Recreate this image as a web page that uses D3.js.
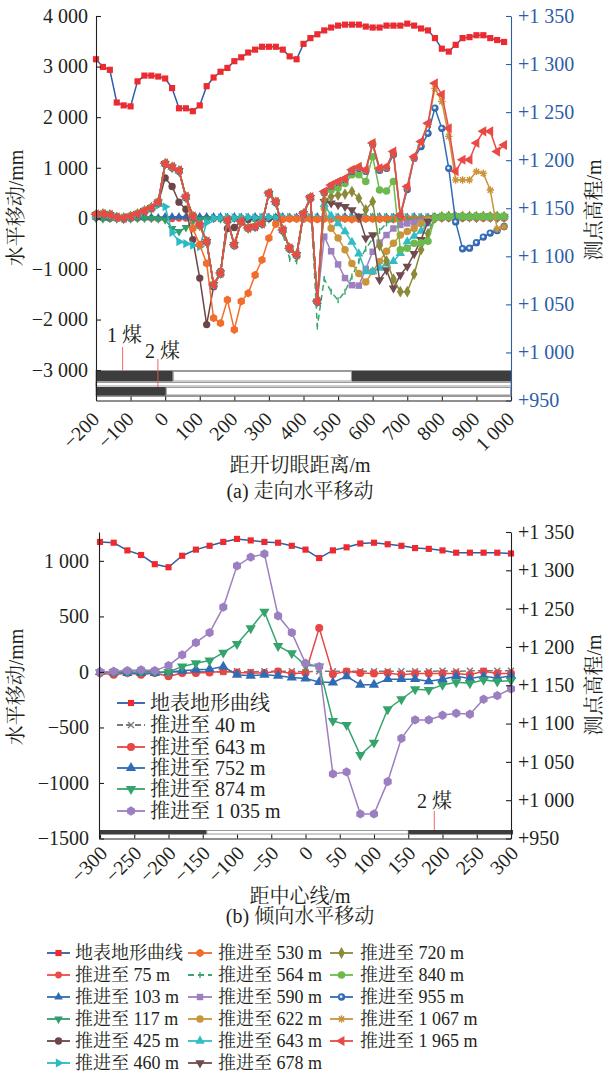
<!DOCTYPE html>
<html>
<head>
<meta charset="utf-8">
<script src="https://cdn.jsdelivr.net/npm/d3@7"></script>
<style>
  body { margin: 0; background: #fff; }
  svg { display: block; }
</style>
</head>
<body>
<svg id="chart" width="604" height="1075"></svg>
<script>
// ---------- data: (a) strike direction ----------
const distA = [-200,-180,-160,-140,-120,-100,-80,-60,-40,-20,0,20,40,60,80,100,120,140,160,180,200,220,240,260,280,300,320,340,360,380,400,420,440,460,480,500,520,540,560,580,600,620,640,660,680,700,720,740,760,780,800,820,840,860,880,900,920,940,960,980];
const elevA = [1305,1297,1294,1260,1257,1256,1282,1288,1288,1287, 1285,1275,1254,1254,1251,1257,1277,1286,1292,1296, 1303,1307,1312,1315,1318,1318,1318,1315,1308,1305, 1321,1327,1331,1335,1338,1340,1341,1341,1341,1339, 1338,1338,1340,1340,1340,1342,1340,1337,1335,1327, 1316,1313,1320,1327,1328,1330,1330,1327,1325,1323];
const mv75 = [10,0,-10,0,-20,-10,0,10,0,-10, 0,-10,0,0,-10,0,0,-10,0,0, 0,10,0,0,-10,0,0,0,10,0, 0,0,-10,0,0,0,10,0,0,0, 0,0,0,10,0,0,0,0,10,0, 0,0,0,0,10,0,0,0,0,0];
const mv103 = [20,10,0,10,0,10,20,10,20,10, 30,30,30,30,30,30,30,30,30,20, 30,20,20,30,20,20,20,30,20,20, 20,20,30,20,20,20,30,20,20,20, 20,30,20,20,20,20,30,20,20,20, 30,20,20,30,20,20,30,20,20,30];
const mv117 = [0,-10,0,-10,-20,-10,0,0,0,-10, -30,-200,-260,-180,-60,-20,-10,0,-10,0, 0,-10,0,0,0,-10,0,0,0,0, 0,-10,0,0,0,0,0,-10,0,0, 0,0,0,0,-10,0,0,0,0,0, 10,10,0,10,10,0,10,10,0,10];
const mv425 = [70,90,60,20,10,40,80,130,190,300, 800,630,320,180,-420,-1180,-2100,-1350,-1050,-200, -180,-60,-20,0,-10,0,10,0,0,0, -10,0,-10,0,0,-10,0,0,-10,0, 0,-10,0,0,0,-10,0,0,0,10, 20,30,20,30,20,30,30,20,30,20];
const mv460 = [60,80,70,20,10,30,80,140,200,260, 230,-280,-460,-500,-530,-560,-80,0,10,20, 10,20,20,10,20,20,10,20,20,10, 20,20,10,20,20,20,10,20,20,20, 20,20,20,20,10,20,20,20,20,30, 30,30,40,30,30,40,30,30,40,30];
const mv530 = [70,90,70,20,10,40,90,150,210,320, 1080,1010,940,420,-200,-520,-890,-1970,-2070,-1610, -2200,-1640,-1480,-1120,-820,-390,-110,-20,-10,-10, -10,-10,-20,-10,-10,-10,-10,-20,-10,-10, -10,-10,-10,-20,-10,-10,-10,-10,-10,0, 10,20,20,10,20,20,10,20,20,10];
const mv564 = [80,100,70,30,20,50,90,160,220,330, 1090,1030,960,440,50,-120,-450,-1300,-1070,-20, -510,-50,-180,-150,-90,510,340,-300,-800,-850, 50,380,-2140,-1200,-1450,-1620,-1450,-1150,-850,-600, -400,-250,-100,-30,0,-10,0,0,10,30, 30,40,30,30,40,30,30,40,30,30];
const mv590 = [80,90,70,20,10,40,90,150,210,330, 1090,1020,950,430,40,-130,-460,-1310,-1080,-30, -520,-60,-190,-160,-100,500,330,-230,-590,-720, 100,420,-1640,-360,-650,-910,-1180,-1320,-1330,-1000, -660,-480,-330,-200,-130,-100,-80,-60,-40,20, 30,30,40,30,30,30,40,30,30,30];
const mv622 = [70,90,70,20,10,40,90,150,210,320, 1080,1010,940,420,40,-140,-460,-1310,-1080,-40, -520,-60,-190,-160,-100,490,320,-230,-590,-720, 90,410,-1640,200,-195,-390,-620,-890,-1090,-1260, -1050,-850,-650,-490,-330,-260,-200,-100,-30,10, 30,30,30,40,30,30,30,40,30,30];
const mv643 = [70,90,70,20,10,40,90,150,210,320, 1080,1010,940,420,40,-140,-460,-1310,-1080,-40, -520,-60,-190,-160,-100,490,320,-230,-590,-720, 90,410,-1640,280,50,-100,-260,-470,-700,-1050, -1050,-980,-900,-850,-690,-460,-350,-250,-100,10, 30,40,30,30,30,40,30,30,30,40];
const mv678 = [70,90,70,20,10,40,90,150,210,320, 1080,1010,940,420,40,-140,-460,-1310,-1080,-40, -520,-60,-190,-160,-100,490,320,-230,-590,-720, 90,410,-1640,330,300,266,233,168,36,-390, -330,-1215,-1020,-1380,-1120,-950,-700,-420,-60,10, 30,30,40,30,30,30,40,30,30,30];
const mv720 = [70,90,70,20,10,40,90,150,210,320, 1080,1010,940,420,40,-140,-460,-1310,-1080,-40, -520,-60,-190,-160,-100,490,320,-230,-590,-720, 90,410,-1640,365,430,460,480,530,400,170, 330,-540,-840,-1200,-1450,-1450,-1100,-620,-300,10, 30,40,30,40,40,30,40,30,40,30];
const mv840 = [80,90,70,20,10,40,90,150,210,320, 1080,1010,940,420,40,-140,-460,-1310,-1080,-30, -520,-60,-190,-160,-100,490,320,-230,-590,-720, 90,410,-1640,500,560,600,690,860,860,730, 1220,560,540,730,-620,-590,-490,-480,-450,10, 40,30,40,40,30,40,40,30,40,40];
const mv955 = [70,80,60,20,0,30,80,140,200,310, 1070,1000,930,410,30,-140,-470,-1330,-1100,-50, -540,-70,-200,-170,-110,480,310,-250,-610,-740, 80,400,-1660,510,640,710,770,930,990,930, 1460,950,990,1260,50,570,1190,1420,1680,2180, 1780,990,-70,-600,-590,-480,-370,-290,-240,-160];
const mv1067 = [70,90,60,20,10,40,90,150,210,320, 1080,1010,940,420,40,-140,-470,-1320,-1090,-40, -530,-70,-200,-160,-100,490,320,-240,-600,-730, 90,410,-1650,520,650,720,780,950,1010,950, 1480,980,1010,1310,60,620,1210,1500,1860,2570, 2310,1620,760,760,760,925,890,560,-210,-170];
const mv1965 = [80,90,70,20,10,40,90,150,210,330, 1090,1020,950,430,40,-130,-460,-1310,-1080,-30, -520,-60,-190,-160,-100,500,330,-230,-590,-720, 100,420,-1640,530,660,730,790,960,1020,960, 1490,990,1020,1320,70,630,1220,1520,1880,2670, 2450,1780,930,1160,1160,1490,1720,1720,1320,1450];

const tickXA = [-200,-100,0,100,200,300,400,500,600,700,800,900,1000];
const tickXALabels = ['−200','−100','0','100','200','300','400','500','600','700','800','900','1 000'];
const tickYA = [-3000,-2000,-1000,0,1000,2000,3000,4000];
const tickYALabels = ['−3 000','−2 000','−1 000','0','1 000','2 000','3 000','4 000'];
const tickElev = [950,1000,1050,1100,1150,1200,1250,1300,1350];
const tickElevLabels = ['+950','+1 000','+1 050','+1 100','+1 150','+1 200','+1 250','+1 300','+1 350'];

// ---------- data: (b) dip direction ----------
const distB = [-300,-280,-260,-240,-220,-200,-180,-160,-140,-120,-100,-80,-60,-40,-20,0,20,40,60,80,100,120,140,160,180,200,220,240,260,280,300];
const elevB = [1337,1336,1326,1320,1308,1304,1319,1327,1332,1337,1341,1339,1337,1336,1332,1327,1316,1326,1330,1335,1336,1334,1332,1329,1328,1326,1323,1323,1323,1323,1322];
const mvB40 = [0,0,0,5,5,0,0,5,0,0,5,0,5,5,5,0,5,5,5,5,5,5,5,5,5,10,5,10,10,10,10];
const mvB643 = [-10,-25,-10,-25,-10,-40,-10,-10,-5,5,-5,-10,-10,5,-15,-10,395,-20,5,-10,-15,-10,-25,-15,-15,-15,-15,-25,5,-15,-15];
const mvB752 = [0,-5,-10,-10,-10,0,10,20,25,48,-25,-35,-25,-35,-50,-60,-90,-95,-40,-115,-115,-65,-65,-65,-85,-65,-40,-60,-40,-55,-35];
const mvB874 = [-5,0,0,0,0,0,48,78,102,174,252,393,543,234,168,60,50,-441,-477,-748,-637,-336,-246,-156,-162,-117,-93,-102,-72,-87,-78];
const mvB1035 = [0,5,12,18,12,57,153,264,354,583,955,1033,1063,505,354,78,48,-919,-901,-1279,-1279,-988,-598,-432,-432,-390,-372,-381,-246,-213,-153];

const tickXB = [-300,-250,-200,-150,-100,-50,0,50,100,150,200,250,300];
const tickXBLabels = ['−300','−250','−200','−150','−100','−50','0','50','100','150','200','250','300'];
const tickYB = [-1500,-1000,-500,0,500,1000];
const tickYBLabels = ['−1500','−1000','−500','0','500','1 000'];

// ---------- setup ----------
const FONT = '"Liberation Serif","Noto Serif CJK SC","Noto Sans CJK SC",serif';
const INK = '#231f20';
const TOPO_LINE = '#2e5da8';
const TOPO_MARK = '#ee2a2f';
const svg = d3.select('#chart');
svg.append('rect').attr('width', 604).attr('height', 1075).attr('fill', '#fff');

const defs = svg.append('defs');
const grad = defs.append('radialGradient').attr('id', 'sph').attr('cx', '45%').attr('cy', '45%').attr('r', '55%');
grad.append('stop').attr('offset', '0%').attr('stop-color', '#ffffff');
grad.append('stop').attr('offset', '22%').attr('stop-color', '#dde8f6');
grad.append('stop').attr('offset', '45%').attr('stop-color', '#3a74bb');
grad.append('stop').attr('offset', '100%').attr('stop-color', '#2a62a8');

// custom marker shapes
const hexagon = { draw(ctx, size) {
  const r = Math.sqrt(size / 2.598);
  for (let i = 0; i < 6; i++) {
    const a = Math.PI / 3 * i + Math.PI / 6;
    i ? ctx.lineTo(r * Math.cos(a), r * Math.sin(a)) : ctx.moveTo(r * Math.cos(a), r * Math.sin(a));
  }
  ctx.closePath();
} };
const asterisk = { draw(ctx, size) {
  const r = Math.sqrt(size) / 2;
  for (let i = 0; i < 4; i++) {
    const a = Math.PI / 4 * i;
    ctx.moveTo(r * Math.cos(a), r * Math.sin(a));
    ctx.lineTo(-r * Math.cos(a), -r * Math.sin(a));
  }
} };
const times = { draw(ctx, size) {
  const r = Math.sqrt(size) / 2;
  ctx.moveTo(-r, -r); ctx.lineTo(r, r);
  ctx.moveTo(r, -r); ctx.lineTo(-r, r);
} };
const vbar = { draw(ctx, size) {
  const r = Math.sqrt(size) / 2;
  ctx.moveTo(0, -r); ctx.lineTo(0, r);
} };

const topoStyle = { name: '地表地形曲线', color: TOPO_LINE, mark: TOPO_MARK, sym: d3.symbolSquare, size: 38 };
const topSeries = [
  { name: '推进至 75 m', v: mv75, color: '#ec4b47', sym: d3.symbolCircle, size: 36 },
  { name: '推进至 103 m', v: mv103, color: '#2f6cb5', sym: d3.symbolTriangle, size: 32 },
  { name: '推进至 117 m', v: mv117, color: '#2f9e6a', sym: d3.symbolTriangle, rot: 180, size: 32 },
  { name: '推进至 425 m', v: mv425, color: '#6d4448', sym: d3.symbolCircle, size: 42 },
  { name: '推进至 460 m', v: mv460, color: '#2cbac2', sym: d3.symbolTriangle, rot: 90, size: 36 },
  { name: '推进至 530 m', v: mv530, color: '#f26c2c', sym: hexagon, size: 46 },
  { name: '推进至 564 m', v: mv564, color: '#3aa86e', sym: vbar, size: 36, dash: '6,4', stroke: true },
  { name: '推进至 590 m', v: mv590, color: '#9c80c2', sym: d3.symbolSquare, size: 42 },
  { name: '推进至 622  m', v: mv622, color: '#c9943a', sym: d3.symbolCircle, size: 44 },
  { name: '推进至 643 m', v: mv643, color: '#33bcc4', sym: d3.symbolTriangle, size: 38 },
  { name: '推进至 678 m', v: mv678, color: '#6f4b4f', sym: d3.symbolTriangle, rot: 180, size: 38 },
  { name: '推进至 720 m', v: mv720, color: '#8b8a3a', sym: d3.symbolDiamond, size: 40 },
  { name: '推进至 840 m', v: mv840, color: '#6cb94c', sym: d3.symbolCircle, size: 44 },
  { name: '推进至 955 m', v: mv955, color: '#2f6cb5', sym: d3.symbolCircle, size: 42, sphere: true },
  { name: '推进至 1 067 m', v: mv1067, color: '#c9943a', sym: asterisk, size: 56, stroke: true },
  { name: '推进至 1 965 m', v: mv1965, color: '#e94a46', sym: d3.symbolTriangle, rot: -90, size: 44 }
];
const botSeries = [
  { name: '推进至 40 m', v: mvB40, color: '#7a7a7a', sym: times, size: 36, dash: '6,3', stroke: true },
  { name: '推进至 643 m', v: mvB643, color: '#e84545', sym: d3.symbolCircle, size: 50 },
  { name: '推进至 752 m', v: mvB752, color: '#2f6cb5', sym: d3.symbolTriangle, size: 46 },
  { name: '推进至 874 m', v: mvB874, color: '#34a36c', sym: d3.symbolTriangle, rot: 180, size: 46 },
  { name: '推进至 1 035 m', v: mvB1035, color: '#9c7fc0', sym: hexagon, size: 56 }
];

function markerAttrs(sel, s) {
  sel.attr('d', d3.symbol().type(s.sym).size(s.size));
  if (s.stroke) {
    sel.attr('fill', 'none').attr('stroke', s.color).attr('stroke-width', 1.4);
  } else if (s.sphere) {
    sel.attr('fill', 'url(#sph)');
  } else {
    sel.attr('fill', s.mark || s.color);
  }
}

function drawSeries(g, xs, ys, s, x, y) {
  const pts = xs.map((d, i) => [d, ys[i]]);
  g.append('path').datum(pts)
    .attr('d', d3.line().x(p => x(p[0])).y(p => y(p[1])))
    .attr('fill', 'none').attr('stroke', s.color).attr('stroke-width', 1.5)
    .attr('stroke-dasharray', s.dash || null);
  g.append('g').selectAll('path').data(pts).join('path')
    .attr('transform', p => `translate(${x(p[0])},${y(p[1])}) rotate(${s.rot || 0})`)
    .call(markerAttrs, s);
}

function legendItem(g, s, x0, x1, tx, yy, fs) {
  g.append('line').attr('x1', x0).attr('x2', x1).attr('y1', yy).attr('y2', yy)
    .attr('stroke', s.color).attr('stroke-width', 1.8).attr('stroke-dasharray', s.dash || null);
  g.append('path').attr('transform', `translate(${(x0 + x1) / 2},${yy}) rotate(${s.rot || 0})`).call(markerAttrs, s);
  g.append('text').attr('x', tx).attr('y', yy).attr('dy', '0.36em')
    .attr('font-size', fs).attr('font-family', FONT).attr('fill', INK).text(s.name);
}

function styleAxis(g, color) {
  g.attr('font-family', FONT).attr('font-size', 20);
  g.selectAll('path.domain').attr('stroke', color).attr('stroke-width', 1.1);
  g.selectAll('.tick line').attr('stroke', color).attr('stroke-width', 1.1);
  g.selectAll('.tick text').attr('fill', color);
}

function axisTitle(txt, x, y, rot) {
  svg.append('text').attr('transform', `translate(${x},${y})${rot ? ' rotate(' + rot + ')' : ''}`)
    .attr('text-anchor', 'middle').attr('font-size', 20).attr('font-family', FONT).attr('fill', INK).text(txt);
}

// ================= (a) =================
const xA = d3.scaleLinear().domain([-200, 1000]).range([96, 511]);
const yA = d3.scaleLinear().domain([-3600, 4000]).range([400.5, 16]);
const yA2 = d3.scaleLinear().domain([950, 1350]).range([400.5, 16]);

// seam schematic
const gSeam = svg.append('g');
const seamGray = '#9a9a9a', seamDark = '#3d3d3d';
gSeam.append('rect').attr('x', xA(-200)).attr('y', 370.5).attr('width', xA(1000) - xA(-200)).attr('height', 25).attr('fill', '#fff').attr('stroke', seamGray);
gSeam.append('rect').attr('x', xA(-200)).attr('y', 371).attr('width', xA(22) - xA(-200)).attr('height', 10.5).attr('fill', seamDark);
gSeam.append('rect').attr('x', xA(22) + 0.5).attr('y', 371.5).attr('width', xA(540) - xA(22) - 1).attr('height', 9.5).attr('fill', '#fff').attr('stroke', seamGray);
gSeam.append('rect').attr('x', xA(540)).attr('y', 371).attr('width', xA(1000) - xA(540)).attr('height', 10.5).attr('fill', seamDark);
gSeam.append('rect').attr('x', xA(-200)).attr('y', 382.5).attr('width', xA(1000) - xA(-200)).attr('height', 3.5).attr('fill', '#fff').attr('stroke', seamGray);
gSeam.append('rect').attr('x', xA(-200)).attr('y', 387).attr('width', xA(2) - xA(-200)).attr('height', 8.5).attr('fill', seamDark);
gSeam.append('rect').attr('x', xA(2) + 0.5).attr('y', 387.5).attr('width', xA(1000) - xA(2) - 1).attr('height', 7.5).attr('fill', '#fff').attr('stroke', seamGray);
gSeam.append('line').attr('x1', xA(-200)).attr('x2', xA(1000)).attr('y1', 396.5).attr('y2', 396.5).attr('stroke', seamGray);
gSeam.append('line').attr('x1', xA(-123)).attr('x2', xA(-123)).attr('y1', 347).attr('y2', 371).attr('stroke', '#e8585a').attr('stroke-width', 0.9);
gSeam.append('line').attr('x1', xA(-21)).attr('x2', xA(-21)).attr('y1', 359).attr('y2', 387).attr('stroke', '#e8585a').attr('stroke-width', 0.9);
gSeam.append('text').attr('x', 107).attr('y', 342).attr('font-size', 20).attr('font-family', FONT).attr('fill', INK).text('1 煤');
gSeam.append('text').attr('x', 145).attr('y', 358).attr('font-size', 20).attr('font-family', FONT).attr('fill', INK).text('2 煤');

// series
const gA = svg.append('g');
drawSeries(gA, distA, elevA, topoStyle, xA, yA2);
topSeries.forEach(s => drawSeries(gA, distA, s.v, s, xA, yA));

// axes
const axA_L = svg.append('g').attr('transform', `translate(${xA(-200)},0)`)
  .call(d3.axisLeft(yA).tickValues(tickYA).tickFormat((d, i) => tickYALabels[i]).tickSizeInner(-5).tickSizeOuter(0).tickPadding(8));
styleAxis(axA_L, INK);
const axA_R = svg.append('g').attr('transform', `translate(${xA(1000)},0)`)
  .call(d3.axisRight(yA2).tickValues(tickElev).tickFormat((d, i) => tickElevLabels[i]).tickSizeInner(-5).tickSizeOuter(0).tickPadding(7));
styleAxis(axA_R, TOPO_LINE);
const axA_B = svg.append('g').attr('transform', `translate(0,${yA(-3600)})`)
  .call(d3.axisBottom(xA).tickValues(tickXA).tickFormat((d, i) => tickXALabels[i]).tickSizeInner(-4).tickSizeOuter(0));
styleAxis(axA_B, INK);
axA_B.selectAll('.tick text').attr('y', 0).attr('dy', 0).attr('text-anchor', 'end')
  .attr('transform', 'translate(4,20) rotate(-45)');

axisTitle('水平移动/mm', 23, 208, -90);
axisTitle('测点高程/m', 601, 210, -90);
axisTitle('距开切眼距离/m', 300, 472);
axisTitle('(a) 走向水平移动', 300, 498);

// ================= (b) =================
const xB = d3.scaleLinear().domain([-300, 300]).range([100, 511]);
const yB = d3.scaleLinear().domain([-1500, 1260]).range([838.5, 532]);
const yB2 = d3.scaleLinear().domain([950, 1350]).range([838.5, 532]);

const gSeamB = svg.append('g');
gSeamB.append('rect').attr('x', xB(-300)).attr('y', 830).attr('width', xB(-144) - xB(-300)).attr('height', 4.5).attr('fill', seamDark);
gSeamB.append('rect').attr('x', xB(-144)).attr('y', 830.5).attr('width', xB(150) - xB(-144)).attr('height', 3.5).attr('fill', '#fff').attr('stroke', seamGray);
gSeamB.append('rect').attr('x', xB(150)).attr('y', 830).attr('width', xB(303) - xB(150)).attr('height', 4.5).attr('fill', seamDark);
gSeamB.append('line').attr('x1', xB(188)).attr('x2', xB(188)).attr('y1', 811).attr('y2', 830).attr('stroke', '#e8585a').attr('stroke-width', 0.9);
gSeamB.append('text').attr('x', 417).attr('y', 808).attr('font-size', 20).attr('font-family', FONT).attr('fill', INK).text('2 煤');

const gB = svg.append('g');
drawSeries(gB, distB, elevB, topoStyle, xB, yB2);
botSeries.forEach(s => drawSeries(gB, distB, s.v, s, xB, yB));

const axB_L = svg.append('g').attr('transform', `translate(${xB(-300) - 1},0)`)
  .call(d3.axisLeft(yB).tickValues(tickYB).tickFormat((d, i) => tickYBLabels[i]).tickSizeInner(-5).tickSizeOuter(0).tickPadding(10));
styleAxis(axB_L, INK);
const axB_R = svg.append('g').attr('transform', `translate(${xB(300)},0)`)
  .call(d3.axisRight(yB2).tickValues(tickElev).tickFormat((d, i) => tickElevLabels[i]).tickSizeInner(-5).tickSizeOuter(0).tickPadding(7));
styleAxis(axB_R, INK);
const axB_B = svg.append('g').attr('transform', `translate(0,${yB(-1500)})`)
  .call(d3.axisBottom(xB).tickValues(tickXB).tickFormat((d, i) => tickXBLabels[i]).tickSizeInner(-4).tickSizeOuter(0));
styleAxis(axB_B, INK);
axB_B.selectAll('.tick text').attr('y', 0).attr('dy', 0).attr('text-anchor', 'end')
  .attr('transform', 'translate(8,16) rotate(-45)');

axisTitle('水平移动/mm', 23, 687, -90);
axisTitle('测点高程/m', 601, 685, -90);
axisTitle('距中心线/m', 300, 903);
axisTitle('(b) 倾向水平移动', 300, 923);

// legend inside (b)
const gLegB = svg.append('g');
const legBRows = [703, 725, 747, 768, 789, 811];
[topoStyle].concat(botSeries).forEach((s, i) => legendItem(gLegB, s, 117, 145, 150, legBRows[i], 20));

// shared legend at the bottom
const gLeg = svg.append('g');
const legRows = [953, 975, 997, 1019, 1041, 1063];
const legCols = [[47, 70, 75], [188, 212, 218], [330, 353, 360]];
[topoStyle].concat(topSeries).forEach((s, i) => {
  const c = legCols[Math.floor(i / 6)];
  legendItem(gLeg, s, c[0], c[1], c[2], legRows[i % 6], 18);
});
</script>
</body>
</html>
